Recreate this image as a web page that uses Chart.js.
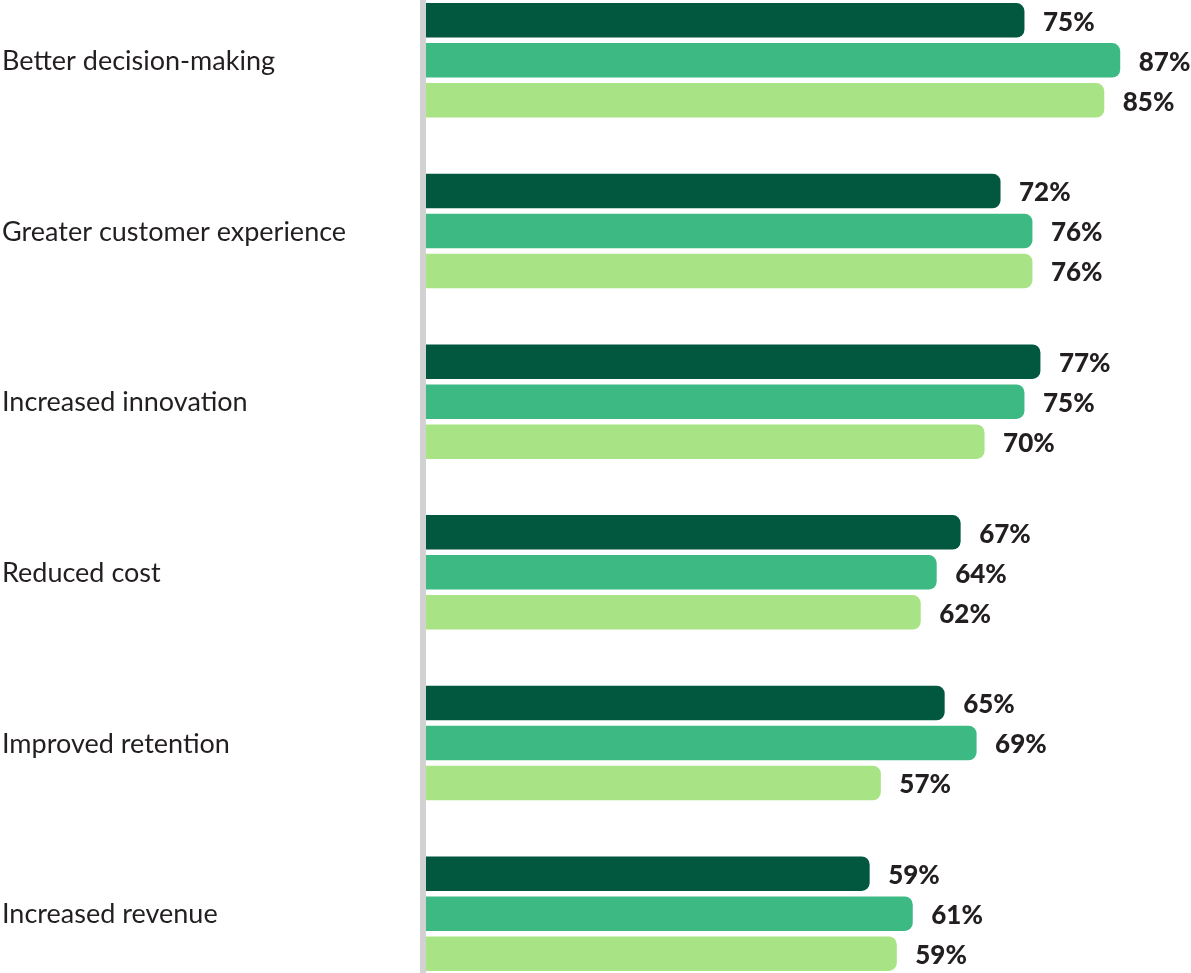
<!DOCTYPE html>
<html>
<head>
<meta charset="utf-8">
<title>Benefits</title>
<script src="https://cdn.jsdelivr.net/npm/chart.js@4"></script>
<style>
  html, body { margin: 0; padding: 0; background: #fff; overflow: hidden; }
  /* canvas is a bit taller than the window: first and last groups are cut off at the edges */
  #wrap { position: absolute; left: 0; top: -25px; width: 1191px; height: 1024px; }
</style>
</head>
<body>
<div id="wrap"><canvas id="chart" width="1191" height="1024"></canvas></div>
<script>
const categories = [
  "Better decision-making",
  "Greater customer experience",
  "Increased innovation",
  "Reduced cost",
  "Improved retention",
  "Increased revenue",
];
// bar lengths as drawn (the dark "59%" bar is drawn shorter than its label)
const seriesDark = [75, 72, 77, 67, 65, 55.6];
const seriesMid = [87, 76, 75, 64, 69, 61];
const seriesLight = [85, 76, 70, 62, 57, 59];
// printed value labels
const labelsDark = ["75%", "72%", "77%", "67%", "65%", "59%"];
const labelsMid = ["87%", "76%", "75%", "64%", "69%", "61%"];
const labelsLight = ["85%", "76%", "70%", "62%", "57%", "59%"];

const TEXT = "#231f20";
const FONT = "Lato, 'Open Sans', sans-serif";

// value labels right of each bar
const valueLabels = {
  id: "valueLabels",
  afterDatasetsDraw(chart) {
    const ctx = chart.ctx;
    ctx.save();
    ctx.font = "900 26px " + FONT;
    ctx.fillStyle = TEXT;
    ctx.textAlign = "left";
    ctx.textBaseline = "middle";
    chart.data.datasets.forEach((ds, i) => {
      chart.getDatasetMeta(i).data.forEach((bar, j) => {
        ctx.fillText(ds.valueLabels[j], bar.x + 18.5, bar.y + 2);
      });
    });
    ctx.restore();
  }
};

const bar = (label, data, texts, color) => ({
  label, data, valueLabels: texts,
  backgroundColor: color,
  borderRadius: 8,
  borderSkipped: "start",
  categoryPercentage: 0.703,
  barPercentage: 0.8625,
});

new Chart(document.getElementById("chart"), {
  type: "bar",
  data: {
    labels: categories,
    datasets: [
      bar("Series 1", seriesDark, labelsDark, "#02573f"),
      bar("Series 2", seriesMid, labelsMid, "#3dba84"),
      bar("Series 3", seriesLight, labelsLight, "#a8e485"),
    ]
  },
  options: {
    indexAxis: "y",
    responsive: false,
    animation: false,
    devicePixelRatio: 1,
    layout: { padding: { left: 2, right: 0, top: 0, bottom: 0 } },
    plugins: { legend: { display: false }, tooltip: { enabled: false } },
    scales: {
      x: { display: false, min: -0.376, max: 95.87 },
      y: {
        grid: { display: false, drawTicks: false },
        border: { display: true, color: "#d2d2d2", width: 6 },
        ticks: { color: TEXT, crossAlign: "far", padding: 0, labelOffset: 1, font: { family: FONT, size: 27 } },
        afterFit(s) { s.width = 421; s.paddingTop = 0; s.paddingBottom = 0; }
      }
    }
  },
  plugins: [valueLabels]
});
</script>
</body>
</html>
